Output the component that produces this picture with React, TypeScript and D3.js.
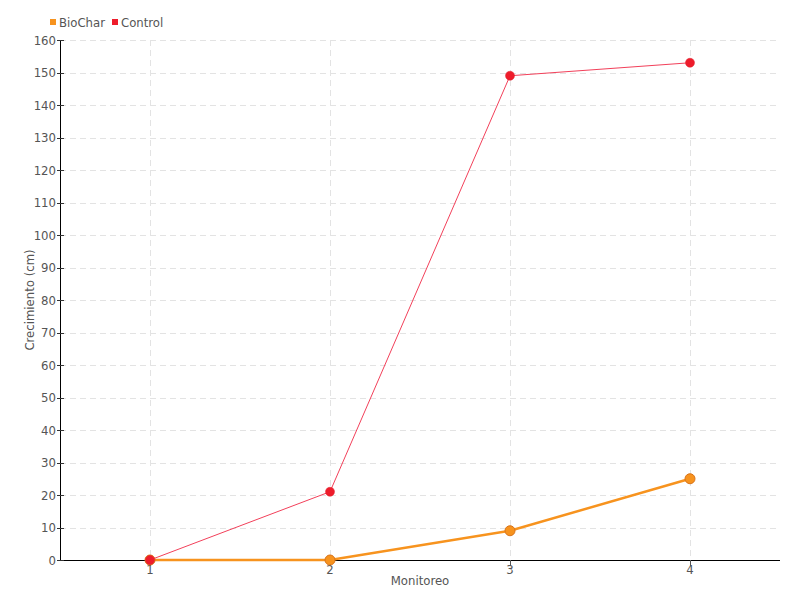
import React from "react";
import * as d3 from "d3";

const categories = [1, 2, 3, 4];
const biocharValues = [0, 0, 9, 25];
const controlValues = [0, 21, 149, 153];
const yTicks = d3.range(0, 161, 10);
const seriesNames = ["BioChar", "Control"];
const seriesColors = ["#f7931e", "#ee1c2b"];

const W = 800, H = 600;
const M = { left: 60, right: 20, top: 40, bottom: 40 };
const FONT = "'DejaVu Sans Condensed', 'Liberation Sans Narrow', 'Roboto', sans-serif";

export default function App() {
  const x = d3.scaleLinear().domain([0.5, 4.5]).range([M.left, W - M.right]);
  const y = d3.scaleLinear().domain([0, 160]).range([H - M.bottom, M.top]);
  const line = d3.line<number>().x((_, i) => x(categories[i])).y((d) => y(d));
  const textColor = "#555";
  const cr = (v: number) => Math.round(v) + 0.5;
  return (
    <svg width={W} height={H} style={{ position: "absolute", left: 0, top: 0 }} fontFamily={FONT}>
      <rect width={W} height={H} fill="#fff" />
      {yTicks.map((t) => (
        <line key={"gy" + t} x1={M.left} x2={W - M.right} y1={cr(y(t))} y2={cr(y(t))} stroke="#e3e3e3" strokeDasharray="6,4" />
      ))}
      {categories.map((c) => (
        <line key={"gx" + c} x1={cr(x(c))} x2={cr(x(c))} y1={M.top} y2={H - M.bottom} stroke="#e3e3e3" strokeDasharray="6,4" />
      ))}
      {/* axes */}
      <line x1={cr(M.left)} x2={cr(M.left)} y1={M.top} y2={H - M.bottom} stroke="#000" />
      <line x1={M.left} x2={W - M.right} y1={cr(H - M.bottom)} y2={cr(H - M.bottom)} stroke="#000" />
      {yTicks.map((t) => (
        <g key={"ty" + t}>
          <line x1={M.left - 3} x2={M.left + 4} y1={cr(y(t))} y2={cr(y(t))} stroke="#333" />
          <text x={M.left - 4} y={y(t)} dy="0.35em" textAnchor="end" fontSize={13} fill={textColor}>{t}</text>
        </g>
      ))}
      {categories.map((c) => (
        <g key={"tx" + c}>
          <line x1={cr(x(c))} x2={cr(x(c))} y1={H - M.bottom} y2={H - M.bottom + 6} stroke="#555" />
          <text x={x(c)} y={H - M.bottom + 14} textAnchor="middle" fontSize={13} fill={textColor}>{c}</text>
        </g>
      ))}
      <text x={(M.left + W - M.right) / 2} y={585} textAnchor="middle" fontSize={13} fill={textColor}>Monitoreo</text>
      <text transform={`translate(34,${(M.top + H - M.bottom) / 2}) rotate(-90)`} textAnchor="middle" fontSize={13} fill={textColor}>Crecimiento (cm)</text>
      {/* BioChar */}
      <path d={line(biocharValues) || ""} fill="none" stroke={seriesColors[0]} strokeWidth={2.5} />
      {biocharValues.map((v, i) => (
        <circle key={"b" + i} cx={x(categories[i])} cy={y(v)} r={5} fill={seriesColors[0]} stroke="#d9741a" strokeWidth={1} />
      ))}
      {/* Control */}
      <path d={line(controlValues) || ""} fill="none" stroke="#f2405a" strokeWidth={1} />
      {controlValues.map((v, i) => (
        <circle key={"c" + i} cx={x(categories[i])} cy={y(v)} r={4.5} fill={seriesColors[1]} stroke="#e0202e" strokeWidth={0.5} />
      ))}
      {/* legend */}
      {seriesNames.map((n, i) => (
        <g key={n} transform={`translate(${[50, 112][i]},22)`}>
          <rect x={0} y={-3} width={6} height={6} fill={seriesColors[i]} />
          <text x={9} y={0} dy="0.35em" fontSize={13} fill={textColor}>{n}</text>
        </g>
      ))}
    </svg>
  );
}
